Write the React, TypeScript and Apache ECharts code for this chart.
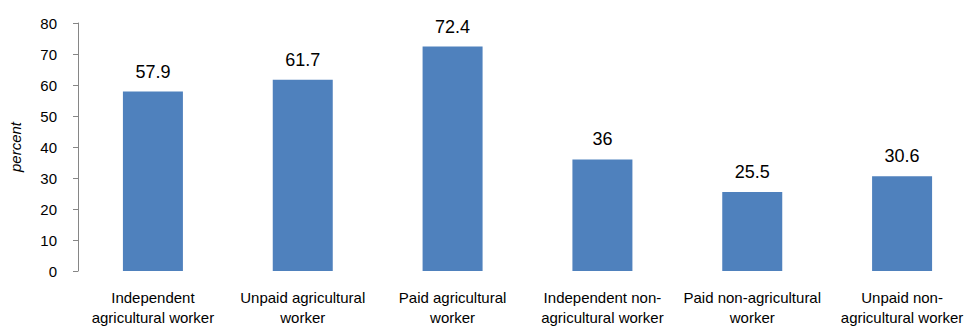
import React, { useEffect, useRef } from "react";
import * as echarts from "echarts";

const categories = [
  "Independent\nagricultural worker",
  "Unpaid agricultural\nworker",
  "Paid agricultural\nworker",
  "Independent non-\nagricultural worker",
  "Paid non-agricultural\nworker",
  "Unpaid non-\nagricultural worker",
];
const values = [57.9, 61.7, 72.4, 36, 25.5, 30.6];
const yTicks = { min: 0, max: 80, interval: 10 };
const axisName = "percent";

const FONT = "'Liberation Sans', Arial, sans-serif";

export default function App() {
  const ref = useRef<HTMLDivElement>(null);
  useEffect(() => {
    if (!ref.current) return;
    const chart = echarts.init(ref.current, null, { renderer: "svg" });
    chart.setOption({
      animation: false,
      backgroundColor: "#ffffff",
      grid: { left: 75, top: 23, height: 248, width: 902 },
      xAxis: {
        type: "category",
        data: categories,
        axisLine: { show: false },
        axisTick: { show: false },
        axisLabel: {
          interval: 0,
          margin: 16,
          color: "#000",
          fontFamily: FONT,
          fontSize: 15,
          lineHeight: 20,
        },
      },
      yAxis: {
        type: "value",
        min: yTicks.min,
        max: yTicks.max,
        interval: yTicks.interval,
        name: axisName,
        nameLocation: "middle",
        nameGap: 55,
        nameTextStyle: {
          fontStyle: "italic",
          color: "#000",
          fontFamily: FONT,
          fontSize: 15,
        },
        axisLine: { show: true, lineStyle: { color: "#868686", width: 1 } },
        axisTick: { show: true, length: 5, lineStyle: { color: "#868686" } },
        splitLine: { show: false },
        axisLabel: {
          margin: 21,
          color: "#000",
          fontFamily: FONT,
          fontSize: 15,
        },
      },
      series: [
        {
          type: "bar",
          data: values,
          barWidth: 60,
          itemStyle: { color: "#4F81BD" },
          label: {
            show: true,
            position: "top",
            distance: 11,
            color: "#000",
            fontFamily: FONT,
            fontSize: 18,
          },
        },
      ],
    });
    return () => chart.dispose();
  }, []);
  return (
    <div style={{ position: "fixed", left: 0, top: 0, width: 965, height: 327, overflow: "hidden", background: "#fff" }}>
      <div ref={ref} style={{ width: 990, height: 327 }} />
    </div>
  );
}
